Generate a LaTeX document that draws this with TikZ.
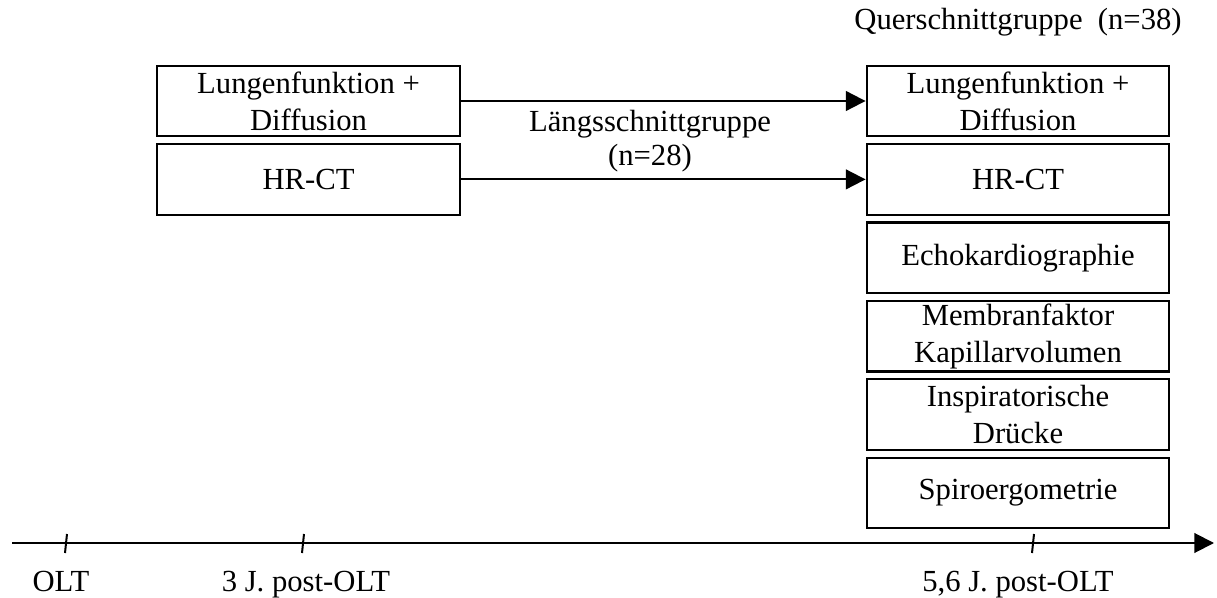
\documentclass[tikz,border=0pt]{standalone}
\usepackage{fontspec}
\setmainfont{Liberation Serif}
\usepackage{tikz}
\usetikzlibrary{arrows.meta,positioning}

\begin{document}
\begin{tikzpicture}[font=\fontsize{11.5}{13.9}\selectfont,>={Triangle[length=2.6mm,width=2.6mm]},node distance=0.75mm,x=0.375pt,y=-0.375pt]
    \tikzset{box/.style={draw,line width=0.8pt,minimum width=39.9mm,minimum height=9.3mm,align=center,inner sep=1pt}}
    \useasboundingbox (0,0) rectangle (1217,598);
    % first examination
    \node[box] (lf) at (308.5,101) {Lungenfunktion +\\Diffusion};
    \node[box,below=of lf] (hr) {HR-CT};
    % second examination
    \node[box] (lfq) at (1018,101) {Lungenfunktion +\\Diffusion};
    \node[box,below=of lfq] (hrq) {HR-CT};
    \node[box,below=of hrq] (echo) {Echokardiographie};
    \node[box,below=of echo] (memb) {Membranfaktor\\Kapillarvolumen};
    \node[box,below=of memb] (insp) {Inspiratorische\\Drücke};
    \node[box,below=of insp] (spiro) {Spiroergometrie};
    \node (quer) at (1018,22) {Querschnittgruppe~ (n=38)};
    \draw[->,line width=0.75pt] (lf)--(lfq); \draw[->,line width=0.75pt] (hr)--(hrq);
    \node[align=center,font=\fontsize{11.5}{12.8}\selectfont] (laengs) at (650,141) {Längsschnittgruppe\\(n=28)};
    % time axis
    \coordinate (t0) at (12,543); \coordinate (t1) at (1214,543);
    \draw[->,line width=0.75pt] (t0)--(t1);
    \foreach \x in {66,303,1033} \draw[line width=0.75pt] (\x+1,534)--(\x-1,553);
    \node[anchor=base] (olt) at (61,591) {OLT};
    \node[anchor=base] (post3) at (306,591) {3 J. post-OLT};
    \node[anchor=base] (post56) at (1018,591) {5,6 J. post-OLT};
  \end{tikzpicture}
\end{document}
